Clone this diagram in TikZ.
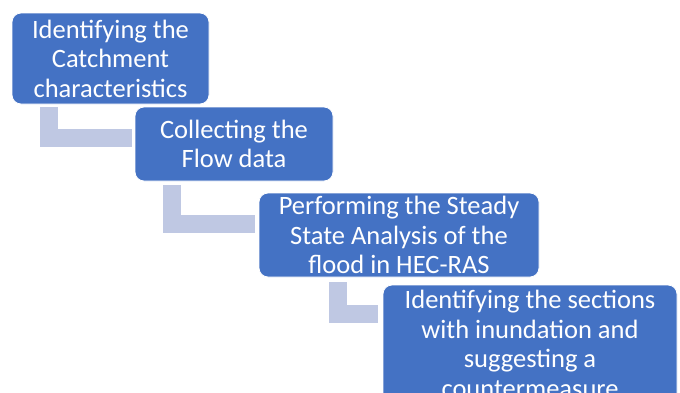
\documentclass[tikz,border=0pt]{standalone}
\usepackage{fontspec}
\setmainfont{Carlito}
\usepackage{tikz}
\definecolor{stepcolor}{rgb}{0.267,0.447,0.769}
\definecolor{linkcolor}{rgb}{0.749,0.784,0.890}

\begin{document}
\begin{tikzpicture}[x=1pt,y=-1pt,line join=miter]
  \tikzstyle{stepbox}=[draw=white,fill=stepcolor,text=white,rounded corners=9pt,
                       align=center,inner sep=0pt,line width=0.8pt,
                       font=\fontsize{26.5}{29.5}\selectfont]
  \tikzstyle{elbow}=[draw=linkcolor,line width=18pt]

  \useasboundingbox (0,0) rectangle (680,392);
  \clip (0,0) rectangle (680,392);

  \node[stepbox,minimum width=197pt,minimum height=91pt]  (S1) at (110.5,58.5) {Identifying the\\Catchment\\characteristics};
  \node[stepbox,minimum width=198pt,minimum height=74pt]  (S2) at (234,144)    {Collecting the\\Flow data};
  \node[stepbox,minimum width=280pt,minimum height=84pt]  (S3) at (399,235)    {Performing the Steady\\State Analysis of the\\flood in HEC-RAS};
  \node[stepbox,minimum width=294pt,minimum height=118pt] (S4) at (530,344)    {Identifying the sections\\with inundation and\\suggesting a\\countermeasure};

  % elbows from one step down to the next
  \draw[elbow] ([xshift=37pt,yshift=-3pt]S1.south west) |- ([xshift=-3pt,yshift=6pt]S2.west);
  \draw[elbow] ([xshift=37.5pt,yshift=-4pt]S2.south west) |- ([xshift=-4pt,yshift=11pt]S3.west);
  \draw[elbow] ([xshift=79pt,yshift=-5pt]S3.south west) |- ([xshift=-5pt,yshift=30pt]S4.west);

\end{tikzpicture}
\end{document}
